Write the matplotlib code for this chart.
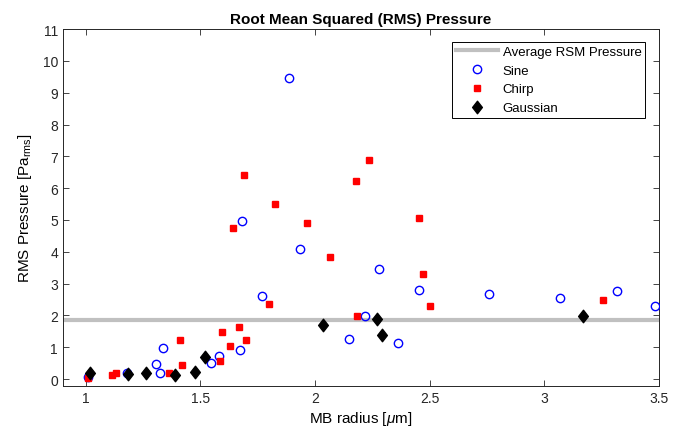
import matplotlib
matplotlib.use("Agg")
import matplotlib.pyplot as plt
import numpy as np
from matplotlib.path import Path

plt.rcParams['font.family'] = ['Liberation Sans', 'DejaVu Sans']
plt.rcParams['mathtext.fontset'] = 'custom'
plt.rcParams['mathtext.rm'] = 'Liberation Sans'
plt.rcParams['mathtext.it'] = 'Liberation Sans:italic'

# values
sine_x = [1.011, 1.179, 1.305, 1.325, 1.336, 1.545, 1.581, 1.674, 1.683, 1.770,
          1.888, 1.935, 2.150, 2.219, 2.280, 2.361, 2.455, 2.759, 3.070, 3.317, 3.481]
sine_y = [0.07, 0.18, 0.47, 0.18, 0.98, 0.51, 0.72, 0.93, 4.96, 2.61,
          9.46, 4.10, 1.26, 1.97, 3.47, 1.15, 2.79, 2.66, 2.55, 2.76, 2.29]

chirp_x = [1.010, 1.116, 1.134, 1.362, 1.410, 1.421, 1.587, 1.593, 1.628, 1.644,
           1.670, 1.689, 1.699, 1.797, 1.824, 1.964, 2.067, 2.179, 2.183, 2.234,
           2.451, 2.471, 2.503, 3.255]
chirp_y = [0.03, 0.12, 0.19, 0.18, 1.23, 0.46, 0.56, 1.47, 1.04, 4.74,
           1.63, 6.42, 1.24, 2.36, 5.51, 4.91, 3.84, 6.22, 1.99, 6.89,
           5.07, 3.30, 2.31, 2.48]

gauss_x = [1.019, 1.186, 1.264, 1.389, 1.478, 1.520, 2.034, 2.269, 2.291, 3.170]
gauss_y = [0.19, 0.15, 0.18, 0.14, 0.24, 0.70, 1.71, 1.89, 1.39, 1.97]

avg_rms = 1.87

# matlab-like diamond, a bit taller than wide
diamond = Path([(0, 1), (0.78, 0), (0, -1), (-0.78, 0), (0, 1)],
               [Path.MOVETO, Path.LINETO, Path.LINETO, Path.LINETO, Path.CLOSEPOLY])

fig = plt.figure(figsize=(6.83, 4.35), dpi=100)
ax = fig.add_axes([0.092, 0.110, 0.873, 0.821])

ax.axhline(avg_rms, color='#c0c0c0', lw=3, label='Average RSM Pressure', zorder=1)
ax.plot(sine_x, sine_y, 'o', mfc='none', mec='blue', ms=6, mew=1.0, ls='none', label='Sine', zorder=3)
ax.plot(chirp_x, chirp_y, 's', color='red', ms=5, ls='none', label='Chirp', zorder=3)
ax.plot(gauss_x, gauss_y, marker=diamond, color='black', ms=9, ls='none', label='Gaussian', zorder=4)

ax.set_xlim(0.9, 3.5)
ax.set_ylim(-0.22, 11)
ax.set_xticks([1, 1.5, 2, 2.5, 3, 3.5])
ax.set_xticklabels(['1', '1.5', '2', '2.5', '3', '3.5'])
ax.set_yticks(np.arange(0, 12))
ax.tick_params(direction='in', top=True, right=True, labelsize=10, length=4, width=0.6, colors='#262626')
for sp in ax.spines.values():
    sp.set_linewidth(0.7)
    sp.set_color('#262626')

ax.set_title('Root Mean Squared (RMS) Pressure', fontsize=11, fontweight='bold', pad=4)
ax.set_xlabel(r'MB radius [$\mu$m]', fontsize=11, labelpad=3)
ax.set_ylabel(r'RMS Pressure [Pa$_{\mathrm{rms}}$]', fontsize=11, labelpad=6)

leg = ax.legend(loc='upper right', fontsize=9.5, frameon=True, fancybox=False,
                edgecolor='black', framealpha=1, borderpad=0.3, labelspacing=0.5,
                handlelength=3.2, handletextpad=0.35, borderaxespad=0.0,
                bbox_to_anchor=(0.977, 0.965))
leg.get_frame().set_linewidth(0.7)

fig.savefig('out.png', dpi=100)
